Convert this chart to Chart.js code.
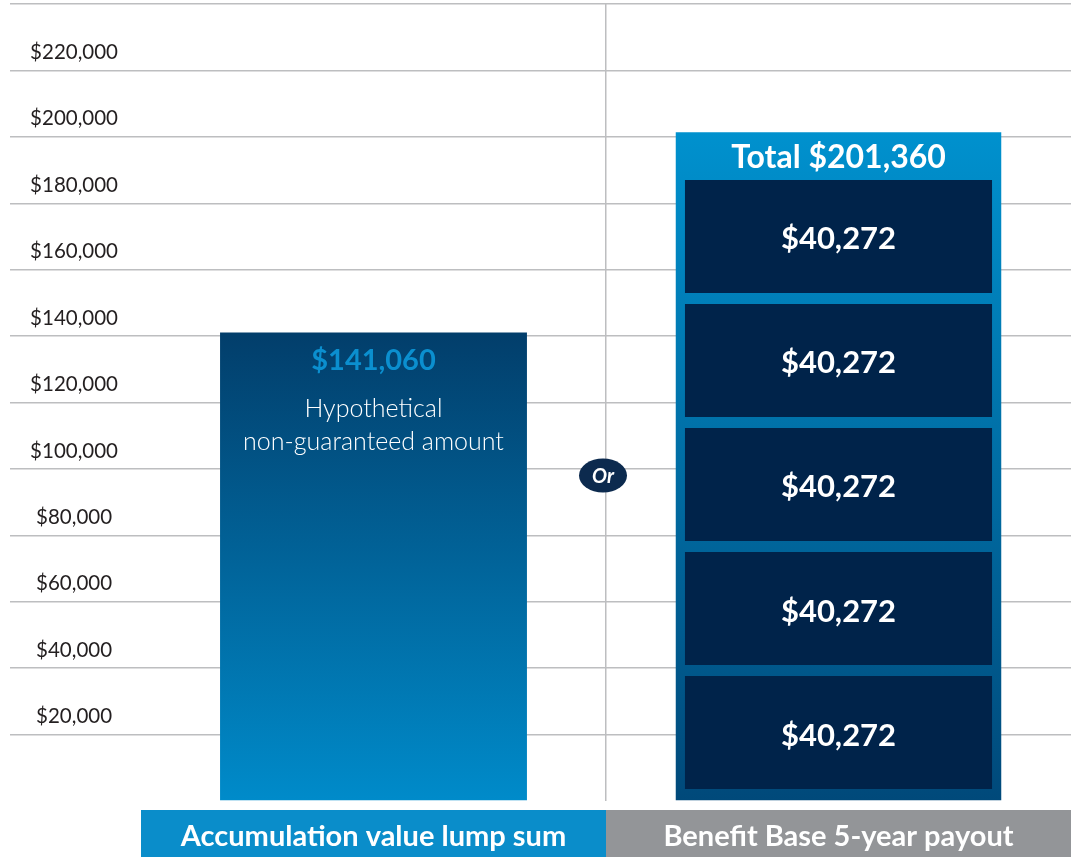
<!DOCTYPE html>
<html lang="en">
<head>
<meta charset="UTF-8">
<title>Lump sum or 5-year payout</title>
<script src="https://cdn.jsdelivr.net/npm/chart.js"></script>
<style>
  html, body { margin: 0; padding: 0; background: #fff; }
  .wrap { width: 1078px; height: 857px; position: relative; }
</style>
</head>
<body>
<div class="wrap"><canvas id="chart"></canvas></div>
<script>
  // data
  const categories = ['Accumulation value lump sum', 'Benefit Base 5-year payout'];
  const lumpSum = [141060, null];
  const payoutYears = [40272, 40272, 40272, 40272, 40272];
  const payoutTotal = payoutYears.reduce((s, v) => s + v, 0);
  const lumpNote = ['Hypothetical', 'non-guaranteed amount'];
  const yMin = 0, yMax = 240000, yStep = 20000;
  const orAt = 98000; // height of the "Or" badge on the divider

  // colours
  const gridColor = '#bdbec0';
  const clear = 'rgba(0,0,0,0)';
  const navy = '#00234a';
  const bandColors = ['#0a8dca', '#939598'];
  const FONT = 'Lato, "Open Sans", sans-serif';

  const money = v => '$' + v.toLocaleString('en-US');

  function vGradient(context, topColor, bottomColor) {
    const { ctx, chartArea, scales } = context.chart;
    const v = context.raw;
    if (!chartArea || v == null) return bottomColor;
    const top = scales.y.getPixelForValue(v);
    const base = scales.y.getPixelForValue(0);
    const g = ctx.createLinearGradient(0, top, 0, base);
    g.addColorStop(0, topColor);
    g.addColorStop(1, bottomColor);
    return g;
  }

  // payout years as stacked floating pieces on their own (hidden) axis
  let acc = 0;
  const yearSets = payoutYears.map((v, i) => {
    const range = [acc, acc + v];
    acc += v;
    return {
      label: 'Year ' + (i + 1),
      data: [null, range],
      yAxisID: 'ySeg',
      backgroundColor: navy,
      borderColor: clear,
      borderWidth: 5.5,
      borderSkipped: false,
      barPercentage: 0.684,
      categoryPercentage: 1,
      grouped: false,
      order: 1
    };
  });

  const labelsPlugin = {
    id: 'barLabels',
    afterDatasetsDraw(chart) {
      const ctx = chart.ctx;
      ctx.save();
      ctx.textAlign = 'center';
      ctx.textBaseline = 'middle';

      // lump sum bar
      const lump = chart.getDatasetMeta(0).data[0];
      ctx.fillStyle = '#0b8fcf';
      ctx.font = 'bold 29px ' + FONT;
      ctx.fillText(money(lumpSum[0]), lump.x, lump.y + 28);
      ctx.fillStyle = '#fff';
      ctx.font = '300 25px ' + FONT;
      lumpNote.forEach((t, i) => ctx.fillText(t, lump.x, lump.y + 76 + i * 33));

      // payout total
      const tot = chart.getDatasetMeta(1).data[1];
      ctx.font = 'bold 32px ' + FONT;
      ctx.fillText('Total ' + money(payoutTotal), tot.x, tot.y + 25);

      // each year
      ctx.font = 'bold 31px ' + FONT;
      payoutYears.forEach((v, i) => {
        const el = chart.getDatasetMeta(2 + i).data[1];
        ctx.fillText(money(v), el.x, (el.y + el.base) / 2 + 3);
      });

      // "Or" badge on the divider
      const x = chart.scales.x, y = chart.scales.y;
      const ox = (x.getPixelForTick(0) + x.getPixelForTick(1)) / 2 - 3;
      const oy = y.getPixelForValue(orAt);
      ctx.fillStyle = '#0c2a4e';
      ctx.beginPath();
      ctx.ellipse(ox, oy, 24, 17, 0, 0, Math.PI * 2);
      ctx.fill();
      ctx.fillStyle = '#fff';
      ctx.font = 'italic bold 20px ' + FONT;
      ctx.fillText('Or', ox, oy + 1);
      ctx.restore();
    }
  };

  const bandsPlugin = {
    id: 'bands',
    beforeDraw(chart) {
      const x = chart.scales.x, ctx = chart.ctx;
      const half = (x.getPixelForTick(1) - x.getPixelForTick(0)) / 2;
      ctx.save();
      categories.forEach((c, i) => {
        const cx = x.getPixelForTick(i);
        ctx.fillStyle = bandColors[i];
        ctx.fillRect(cx - half, x.top + 9, half * 2, chart.height - x.top - 9);
      });
      ctx.restore();
    }
  };

  new Chart(document.getElementById('chart'), {
    type: 'bar',
    data: {
      labels: categories,
      datasets: [
        {
          label: 'Lump sum',
          data: lumpSum,
          backgroundColor: c => vGradient(c, '#023e6b', '#008bca'),
          barPercentage: 0.66,
          categoryPercentage: 1,
          grouped: false,
          order: 3
        },
        {
          label: 'Total payout',
          data: [null, payoutTotal],
          backgroundColor: c => vGradient(c, '#0091ce', '#00497a'),
          barPercentage: 0.70,
          categoryPercentage: 1,
          grouped: false,
          order: 2
        },
        ...yearSets
      ]
    },
    options: {
      responsive: true,
      maintainAspectRatio: false,
      animation: false,
      layout: { padding: { left: 10, right: 7, top: 4, bottom: 0 } },
      plugins: { legend: { display: false }, tooltip: { enabled: false } },
      scales: {
        x: {
          offset: true,
          grid: { drawTicks: false, color: c => c.index === 1 ? gridColor : clear, lineWidth: 1.5 },
          border: { display: false },
          ticks: {
            color: '#fff', padding: 18, maxRotation: 0, autoSkip: false,
            font: { family: FONT, size: 29, weight: 'bold' }
          },
          afterFit: s => { s.height = 56; }
        },
        y: {
          min: yMin, max: yMax,
          grid: {
            color: c => (c.tick && c.tick.value === 0) ? clear : gridColor,
            lineWidth: 1.5,
            tickLength: 131
          },
          border: { display: false },
          ticks: {
            stepSize: yStep,
            padding: -108,
            labelOffset: -18,
            crossAlign: 'center',
            color: '#231f20',
            font: { family: FONT, size: 20.5 },
            callback: v => (v === yMin || v === yMax) ? '' : money(v)
          },
          afterFit: s => { s.width = 131; }
        },
        ySeg: { display: false, min: -2100, max: 256700 }
      }
    },
    plugins: [bandsPlugin, labelsPlugin]
  });
</script>
</body>
</html>
